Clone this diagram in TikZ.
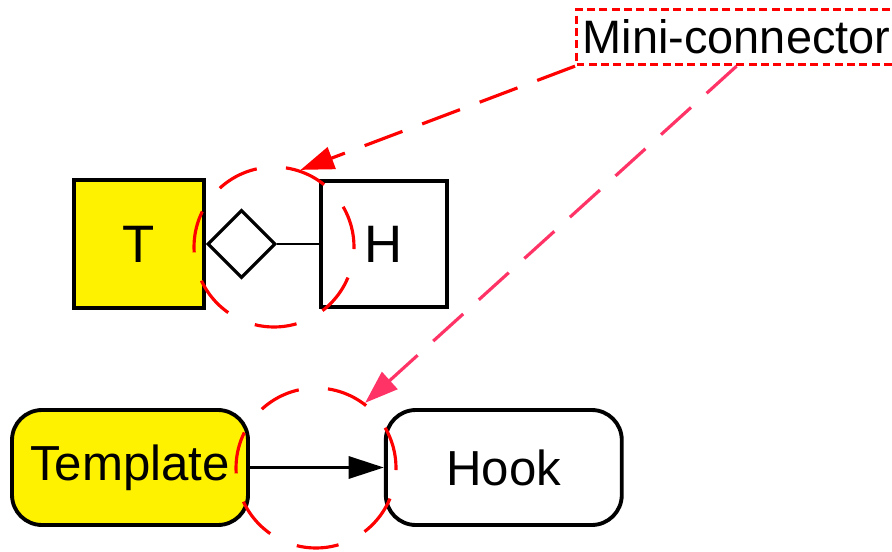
\documentclass[tikz,border=0pt]{standalone}
\usepackage{fontspec}
\setmainfont{Liberation Sans}
\usetikzlibrary{positioning, arrows.meta, shapes.geometric}
\definecolor{pinkline}{HTML}{FF3366}

\begin{document}
\begin{tikzpicture}[
  x=0.02cm, y=-0.02cm,
  box/.style={
    draw=black, fill=#1, line width=2.2pt,
    inner sep=0pt, font=\fontsize{30}{36}\selectfont
  },
  pill/.style={
    draw=black, fill=#1, line width=2.2pt, rounded corners=0.6cm,
    minimum width=4.72cm, minimum height=2.3cm, inner sep=0pt,
    font=\fontsize{28}{34}\selectfont
  },
  joint/.style={
    diamond, draw=black, fill=white, line width=1.8pt,
    minimum width=1.36cm, minimum height=1.36cm, inner sep=0pt
  },
  ring/.style={
    circle, draw=red, line width=1.8pt,
    dash pattern=on 24pt off 16.7pt,
    minimum size=3.2cm, inner sep=0pt
  },
  tag/.style={
    draw=red, line width=1.8pt, dash pattern=on 4.5pt off 2.5pt,
    minimum width=6.4cm, minimum height=1.1cm, inner sep=0pt,
    font=\fontsize{26.7}{32}\selectfont
  },
  callout/.style={
    draw=#1, line width=1.8pt, dash pattern=on 23pt off 12pt,
    -{Triangle[length=19pt, width=13pt]}
  },
  flow/.style={-{Triangle[length=20pt, width=12.5pt]}, line width=1.8pt},
]
  \useasboundingbox (0,0) rectangle (892,551);

  \node[box=yellow, minimum width=2.6cm, minimum height=2.56cm] (T) at (139,244) {T};
  \node[joint, right=0pt of T] (join) {};
  \node[box=white, minimum width=2.52cm, minimum height=2.52cm,
    right=0.84cm of join] (H) {H};
  \draw[line width=1.5pt] (join.east) -- (H.west);

  \node[pill=yellow] (tmpl) at (130,467.5) {Template};
  \node[pill=white, right=2.68cm of tmpl] (hook) {Hook};
  \draw[flow] (tmpl) -- (hook);

  \node[ring] (ring1) at (274,247) {};
  \node[ring] (ring2) at (316,468) {};

  \node[tag, anchor=north west] (mini) at (575,8) {Mini-connector};
  \draw[callout=red] (mini.south west) -- (ring1.71);
  \draw[callout=pinkline] (mini.south) -- (ring2.53);
\end{tikzpicture}
\end{document}
